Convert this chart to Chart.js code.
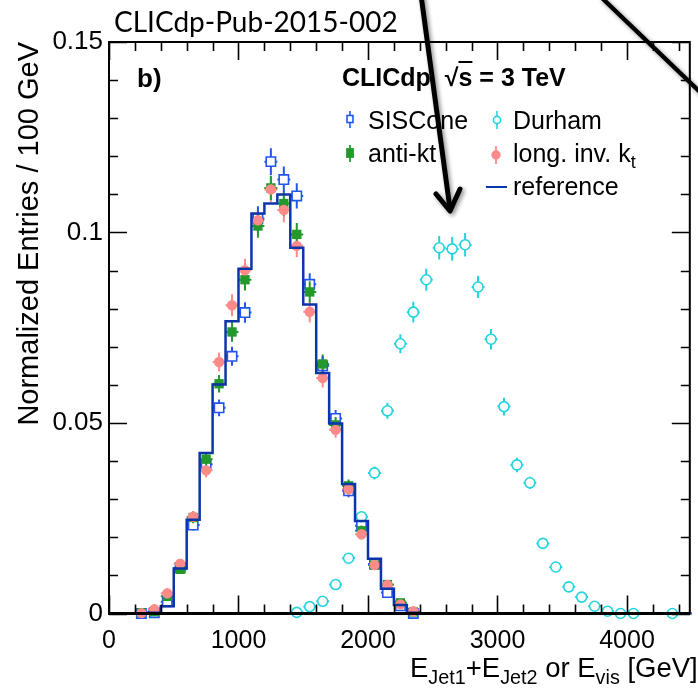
<!DOCTYPE html>
<html><head><meta charset="utf-8">
<script src="https://cdn.jsdelivr.net/npm/chart.js@4.4.1/dist/chart.umd.min.js"></script>
<style>
html,body{margin:0;padding:0;background:#fff;}
#wrap{position:relative;width:698px;height:694px;overflow:hidden;background:#fff;}
#c{position:absolute;left:0;top:0;}
.t{position:absolute;white-space:nowrap;font-family:"Liberation Sans",Arial,Helvetica,sans-serif;color:#000;line-height:1;}
.b{font-weight:bold;}
sub{font-size:0.72em;vertical-align:baseline;position:relative;top:0.36em;}
svg{position:absolute;left:0;top:0;}
</style></head><body>
<div id="wrap">
<canvas id="c" width="698" height="694"></canvas>
<div class="t" style="left:114px;top:7px;font-family:Lato,'Open Sans',sans-serif;font-size:28px;">CLICdp-Pub-2015-002</div>
<div class="t b" style="left:137px;top:65px;font-size:26px;">b)</div>
<div class="t b" style="left:342px;top:65px;font-size:25px;">CLICdp&nbsp;&nbsp;√<span style="text-decoration:overline;">s</span> = 3 TeV</div>
<div class="t" style="left:368px;top:108px;font-size:25px;">SISCone</div>
<div class="t" style="left:368px;top:141px;font-size:25px;">anti-kt</div>
<div class="t" style="left:513px;top:108px;font-size:25px;">Durham</div>
<div class="t" style="left:513px;top:141px;font-size:25px;">long. inv. k<sub>t</sub></div>
<div class="t" style="left:513px;top:174px;font-size:25px;">reference</div>
<div class="t" style="left:410px;top:654px;font-size:27.5px;">E<sub>Jet1</sub>+E<sub>Jet2</sub> or E<sub>vis</sub> [GeV]</div>
<svg width="698" height="694" viewBox="0 0 698 694">
  <g stroke="#2255ee" stroke-width="1.6" fill="none">
    <rect x="347" y="115.5" width="6" height="7"/>
    <line x1="350" y1="111" x2="350" y2="115.5"/><line x1="350" y1="122.5" x2="350" y2="128"/>
  </g>
  <g stroke="#22992a" stroke-width="1.8">
    <rect x="347" y="149" width="6" height="8" fill="#22992a"/>
    <line x1="350" y1="145" x2="350" y2="162"/>
  </g>
  <g stroke="#22d3dd" stroke-width="1.6" fill="none">
    <circle cx="497" cy="120" r="3.6"/>
    <line x1="497" y1="111" x2="497" y2="116.4"/><line x1="497" y1="123.6" x2="497" y2="129"/>
  </g>
  <g stroke="#ff8a8a" stroke-width="1.8" fill="#ff8a8a">
    <circle cx="496" cy="155" r="3.8"/>
    <line x1="496" y1="146" x2="496" y2="164"/>
  </g>
  <line x1="486" y1="187" x2="507" y2="187" stroke="#0b35a8" stroke-width="2"/>
  <g stroke="#000" stroke-width="5" fill="none" stroke-linecap="round" stroke-linejoin="round" style="filter:drop-shadow(2px 2px 2px rgba(0,0,0,0.45));">
    <line x1="421" y1="-5" x2="450" y2="209"/>
    <polyline points="436,194 450,211 460,189"/>
    <line x1="602" y1="-2" x2="700" y2="92" stroke-width="4.5"/>
  </g>
</svg>
</div>
<script>
// ---- data ----
const jetCenters = [250,350,450,550,650,750,850,950,1050,1150,1250,1350,1450,1550,1650,1750,1850,1950,2050,2150,2250,2350];
const sisconeVals = [0,0.0002,0.0031,0.0120,0.0232,0.0392,0.0540,0.0675,0.0790,0.1037,0.1186,0.1139,0.1096,0.0864,0.0650,0.0512,0.0322,0.0230,0.0130,0.0055,0.0020,0.0000];
const sisconeErr  = [0,0.0002,0.0006,0.0010,0.0014,0.0018,0.0022,0.0025,0.0027,0.0032,0.0035,0.0034,0.0033,0.0029,0.0025,0.0022,0.0017,0.0014,0.0010,0.0007,0.0004,0];
const antiktVals  = [0.0002,0.0005,0.0045,0.0116,0.0252,0.0405,0.0603,0.0739,0.0876,0.1017,0.1117,0.1076,0.0995,0.0844,0.0655,0.0495,0.0335,0.0217,0.0127,0.0076,0.0028,0.0004];
const antiktErr   = [0.0002,0.0003,0.0007,0.0010,0.0015,0.0019,0.0023,0.0026,0.0028,0.0031,0.0032,0.0032,0.0030,0.0028,0.0025,0.0021,0.0017,0.0014,0.0010,0.0008,0.0005,0.0002];
const longktVals  = [0.0001,0.0011,0.0053,0.0131,0.0254,0.0376,0.0660,0.0809,0.0901,0.1032,0.1113,0.1059,0.0965,0.0792,0.0618,0.0482,0.0326,0.0208,0.0127,0.0075,0.0024,0.0006];
const longktErr   = [0.0001,0.0004,0.0008,0.0011,0.0015,0.0019,0.0025,0.0029,0.0030,0.0032,0.0033,0.0032,0.0030,0.0028,0.0025,0.0021,0.0017,0.0014,0.0010,0.0008,0.0004,0.0002];
const durhamCenters = [1450,1550,1650,1750,1850,1950,2050,2150,2250,2350,2450,2550,2650,2750,2850,2950,3050,3150,3250,3350,3450,3550,3650,3750,3850,3950,4050,4350];
const durhamVals  = [0.0003,0.0018,0.0032,0.0076,0.0145,0.0254,0.0369,0.0532,0.0708,0.0791,0.0876,0.0960,0.0957,0.0968,0.0857,0.0720,0.0543,0.0390,0.0343,0.0184,0.0122,0.0070,0.0043,0.0019,0.0006,0,0,0];
const durhamErr   = [0.0002,0.0004,0.0006,0.0008,0.0011,0.0014,0.0017,0.0021,0.0025,0.0027,0.0029,0.0031,0.0031,0.0031,0.0029,0.0027,0.0023,0.0019,0.0016,0.0012,0.0009,0.0007,0.0005,0.0003,0.0002,0,0,0];
const refBinWidth = 100;
const refValues = [0,0,0,0.0002,0.0019,0.0118,0.0246,0.0421,0.0601,0.0767,0.0905,0.1050,0.1076,0.1100,0.0960,0.0811,0.0631,0.0499,0.0340,0.0243,0.0144,0.0065,0.0022,0.0002,
  0,0,0,0,0,0,0,0,0,0,0,0,0,0,0,0,0,0,0,0,0,0];
const xTickLabels = [0,1000,2000,3000,4000];
const yTickLabels = [0,0.05,0.1,0.15];

// ---- build chart ----
const pts = (xs, ys) => xs.map((x,i)=>({x:x, y:ys[i]}));
const refPts = refValues.map((v,i)=>({x:i*refBinWidth, y:v}));
refPts.push({x:refValues.length*refBinWidth, y:0});

const C_SIS='#2255ee', C_AKT='#22992a', C_LKT='#ff8a8a', C_DUR='#22d3dd', C_REF='#0b35a8';

const errBars = {
  id:'errBars',
  beforeDatasetsDraw(chart){
    const {ctx, scales:{x,y}} = chart;
    ctx.save();
    chart.data.datasets.forEach(ds=>{
      if(!ds.yErr) return;
      const g = ds.errGap || 0;
      ctx.strokeStyle = ds.borderColor; ctx.lineWidth = 2;
      ds.data.forEach((p,i)=>{
        const e = ds.yErr[i];
        const px = x.getPixelForValue(p.x), py = y.getPixelForValue(p.y);
        ctx.beginPath();
        if(e>0){
          const yt = y.getPixelForValue(p.y+e), yb = y.getPixelForValue(p.y-e);
          if(py-g>yt){ ctx.moveTo(px, yt); ctx.lineTo(px, py-g); }
          if(py+g<yb){ ctx.moveTo(px, py+g); ctx.lineTo(px, yb); }
        }
        const xl = x.getPixelForValue(p.x-50), xr = x.getPixelForValue(p.x+50);
        ctx.moveTo(xl, py); ctx.lineTo(px-g, py);
        ctx.moveTo(px+g, py); ctx.lineTo(xr, py);
        ctx.stroke();
      });
    });
    ctx.restore();
  }
};

const frame = {
  id:'frame',
  afterDraw(chart){
    const {ctx, chartArea:a, scales:{x,y}} = chart;
    ctx.save();
    ctx.strokeStyle='#000';
    ctx.lineWidth=1.6;
    ctx.beginPath();
    for(let v=0; v<=x.max; v+=200){
      const px = Math.round(x.getPixelForValue(v))+0.5;
      const L = (v%1000===0)?18:9;
      ctx.moveTo(px,a.bottom); ctx.lineTo(px,a.bottom-L);
      ctx.moveTo(px,a.top); ctx.lineTo(px,a.top+L);
    }
    for(let i=0;i<=15;i++){
      const py = Math.round(y.getPixelForValue(i/100))+0.5;
      const L = (i%5===0)?18:9;
      ctx.moveTo(a.left,py); ctx.lineTo(a.left+L,py);
      ctx.moveTo(a.right,py); ctx.lineTo(a.right-L,py);
    }
    ctx.stroke();
    ctx.lineWidth=2;
    ctx.beginPath();
    ctx.moveTo(a.left,a.bottom); ctx.lineTo(a.left,a.top); ctx.lineTo(a.right,a.top); ctx.lineTo(a.right,a.bottom);
    ctx.stroke();
    ctx.lineWidth=3;
    ctx.beginPath(); ctx.moveTo(a.left-1,a.bottom); ctx.lineTo(a.right,a.bottom); ctx.stroke();
    ctx.restore();
  }
};

const tickFont = s => ({family:'"Liberation Sans", Arial, sans-serif', size:s});

new Chart(document.getElementById('c'), {
  type:'scatter',
  data:{datasets:[
    {label:'reference', type:'line', data:refPts, stepped:true, borderColor:C_REF, borderWidth:2.5, pointRadius:0, fill:false, clip:false},
    {label:'long. inv. kt', data:pts(jetCenters,longktVals), yErr:longktErr, pointStyle:'circle', radius:5.2, backgroundColor:C_LKT, borderColor:C_LKT, borderWidth:0, clip:false},
    {label:'anti-kt', data:pts(jetCenters,antiktVals), yErr:antiktErr, pointStyle:'rect', radius:6.6, backgroundColor:C_AKT, borderColor:C_AKT, borderWidth:0, clip:false},
    {label:'SISCone', data:pts(jetCenters,sisconeVals), yErr:sisconeErr, errGap:4.6, pointStyle:'rect', radius:6.6, backgroundColor:'rgba(255,255,255,0)', borderColor:C_SIS, borderWidth:1.6, clip:false},
    {label:'Durham', data:pts(durhamCenters,durhamVals), yErr:durhamErr, errGap:5, pointStyle:'circle', radius:5, backgroundColor:'rgba(255,255,255,0)', borderColor:C_DUR, borderWidth:1.6, clip:false}
  ]},
  options:{
    responsive:false, animation:false, devicePixelRatio:1,
    layout:{padding:{top:42,right:1,left:0,bottom:0}},
    plugins:{legend:{display:false}, tooltip:{enabled:false}},
    scales:{
      x:{type:'linear', min:0, max:4485,
        grid:{display:false, drawTicks:false}, border:{display:false},
        afterFit(s){ s.height = 80.5; },
        afterBuildTicks(s){ s.ticks = xTickLabels.map(v=>({value:v})); },
        ticks:{padding:13, maxRotation:0, autoSkip:false, color:'#000', font:tickFont(25), callback:v=>String(v)}
      },
      y:{type:'linear', min:0, max:0.15,
        grid:{display:false, drawTicks:false}, border:{display:false},
        afterFit(s){ s.width = 109; },
        afterBuildTicks(s){ s.ticks = yTickLabels.map(v=>({value:v})); },
        ticks:{padding:6, color:'#000', font:tickFont(26), callback:v=>String(v)},
        title:{display:true, text:'Normalized Entries / 100 GeV', align:'end', color:'#000', padding:{top:13,bottom:0}, font:{family:'"Liberation Sans", Arial, sans-serif', size:29}}
      }
    }
  },
  plugins:[errBars, frame]
});
</script>
</body></html>
